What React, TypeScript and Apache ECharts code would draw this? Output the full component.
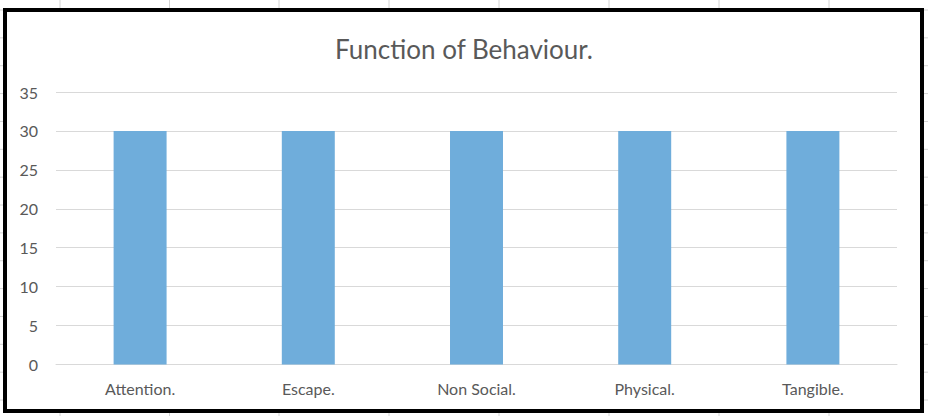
import React, { useEffect, useRef } from "react";
import * as echarts from "echarts";

const categories = ["Attention.", "Escape.", "Non Social.", "Physical.", "Tangible."];
const values = [30, 30, 30, 30, 30];
const titleText = "Function of Behaviour.";

const sheetCols = [60, 169.5, 279, 389, 499, 609, 719, 829];
const sheetRows = Array.from({ length: 15 }, (_, k) => 10 + k * 27.86);

export default function App() {
  const ref = useRef<HTMLDivElement>(null);
  useEffect(() => {
    document.body.style.margin = "0";
    const chart = echarts.init(ref.current!, null, { renderer: "svg" });
    const lineColor = "#d4d4d4";
    const graphics: any[] = [];
    sheetCols.forEach((x) => {
      graphics.push({ type: "line", shape: { x1: x, y1: 0, x2: x, y2: 8 }, style: { stroke: lineColor, lineWidth: 1 }, silent: true });
      graphics.push({ type: "line", shape: { x1: x, y1: 413, x2: x, y2: 416 }, style: { stroke: lineColor, lineWidth: 1 }, silent: true });
    });
    sheetRows.forEach((y) => {
      graphics.push({ type: "line", shape: { x1: 0, y1: y, x2: 3, y2: y }, style: { stroke: lineColor, lineWidth: 1 }, silent: true });
      graphics.push({ type: "line", shape: { x1: 924, y1: y, x2: 928, y2: y }, style: { stroke: lineColor, lineWidth: 1 }, silent: true });
    });
    graphics.push({
      type: "rect",
      shape: { x: 5, y: 10, width: 917, height: 401 },
      style: { fill: "none", stroke: "#000", lineWidth: 4 },
      silent: true,
      z: 10,
    });
    chart.setOption({
      animation: false,
      backgroundColor: "#fff",
      title: {
        text: titleText,
        left: "center",
        top: 36,
        padding: 0,
        textStyle: { fontFamily: "Lato", fontSize: 26, fontWeight: "normal", color: "#595959" },
      },
      grid: { left: 56, right: 31, top: 92, bottom: 51.5, containLabel: false },
      xAxis: {
        type: "category",
        data: categories,
        axisLine: { show: true, lineStyle: { color: "#d9d9d9", width: 1 } },
        axisTick: { show: false },
        axisLabel: { fontFamily: "Lato", fontSize: 16, color: "#595959", margin: 16 },
      },
      yAxis: {
        type: "value",
        min: 0,
        max: 35,
        interval: 5,
        axisLine: { show: false },
        axisTick: { show: false },
        splitLine: { lineStyle: { color: "#d9d9d9", width: 1 } },
        axisLabel: { fontFamily: "Lato", fontSize: 16, color: "#595959", margin: 18 },
      },
      series: [
        {
          type: "bar",
          data: values,
          barWidth: "31.5%",
          itemStyle: { color: "#6FADDB" },
        },
      ],
      graphic: graphics,
    });
    return () => chart.dispose();
  }, []);
  return <div ref={ref} style={{ width: 928, height: 416 }} />;
}
